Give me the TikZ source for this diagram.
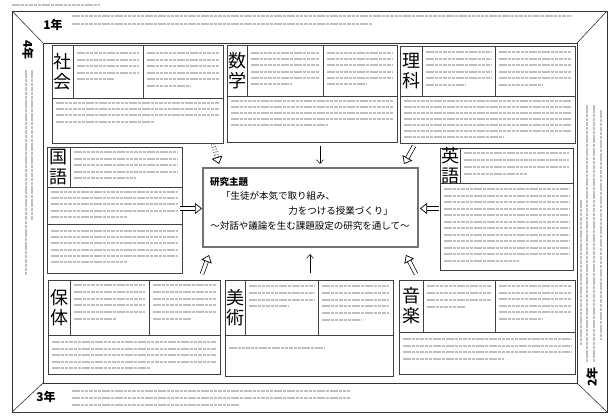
\documentclass[tikz,border=0pt]{standalone}
\usepackage{fontspec}
\setmainfont{Noto Sans CJK JP}
\usetikzlibrary{arrows.meta}

% rows of unreadable small print, drawn as grey bars
\newcommand\txtrows[5]{%
  \foreach \k in {1,...,#4}{
    \pgfmathsetmacro\yy{#3+(\k-1)*#5}
    \ifnum\k=#4 \draw[txt] (#1,\yy) -- ({#1+0.6*(#2-#1)},\yy);
    \else \draw[txt] (#1,\yy) -- (#2,\yy); \fi
  }}

\begin{document}
\begin{tikzpicture}[x=1pt,y=-1pt,
  frame/.style={draw=black!80, line width=0.6pt},
  box/.style={draw=black!75, line width=0.7pt},
  subj/.style={font=\fontsize{18}{20}\selectfont, align=center, inner sep=0pt},
  grade/.style={font=\bfseries\fontsize{12}{13}\selectfont, inner sep=0pt},
  theme/.style={font=\fontsize{9.5}{11}\selectfont, inner sep=0pt},
  txt/.style={black!25, line width=2pt, dash pattern=on 3.5pt off 0.8pt},
  hollow/.style={double=white, double distance=3pt, line width=0.7pt,
    -{Triangle[open,length=7pt,width=11pt]}},
  thin/.style={line width=0.5pt, -{Straight Barb[length=4pt,width=7pt]}}]
\useasboundingbox (0,0) rectangle (613,416);

% frame with the four grade bands
\draw[txt] (12,5) -- (100,5);
\draw[frame] (12,11) rectangle (607,412);
\draw[frame] (43,43) rectangle (577,383);
\draw[frame] (12,11) -- (43,43) (607,11) -- (577,43)
  (12,412) -- (43,383) (607,412) -- (577,383);

\node[grade] (nen1) at (53,25) {1年};
\node[grade, rotate=90] (nen2) at (592,377) {2年};
\node[grade] (nen3) at (46,397) {3年};
\node[grade, rotate=-90] (nen4) at (28,50) {4年};

\txtrows{72}{572}{16}{2}{8}
\txtrows{72}{350}{391}{3}{7}
\draw[txt] (26,70) -- (26,275);
\draw[txt] (32,70) -- (32,220);
\draw[txt] (581,200) -- (581,345);
\draw[txt] (587,105) -- (587,362);
\draw[txt] (594,105) -- (594,362);
\draw[txt] (601,110) -- (601,340);

% social studies
\draw[box] (52,45) rectangle (223,143);
\draw[box] (73,45) -- (73,98) (52,98) -- (223,98) (143,45) -- (143,98);
\node[subj] (shakai) at (62.5,71.5) {社\\会};
\txtrows{77}{139}{53}{5}{6.5}
\txtrows{147}{219}{53}{6}{6.5}
\txtrows{56}{219}{103}{4}{6.2}

% mathematics
\draw[box] (227,45) rectangle (397,142);
\draw[box] (247,45) -- (247,96) (227,96) -- (397,96) (323,45) -- (323,96);
\node[subj] (sugaku) at (237,70.5) {数\\学};
\txtrows{251}{319}{53}{6}{6.2}
\txtrows{327}{393}{53}{6}{6.2}
\txtrows{231}{393}{101}{5}{6}

% science
\draw[box] (400,46) rectangle (575,143);
\draw[box] (422,46) -- (422,96) (400,96) -- (575,96) (495,46) -- (495,96);
\node[subj] (rika) at (411,71) {理\\科};
\txtrows{426}{491}{52}{6}{6.5}
\txtrows{499}{571}{52}{6}{6.5}
\txtrows{404}{571}{101}{7}{6}

% japanese
\draw[box] (47,147) rectangle (182,273);
\draw[box] (70,147) -- (70,187) (47,187) -- (182,187) (47,224) -- (182,224);
\node[subj] (kokugo) at (58.5,167) {国\\語};
\txtrows{74}{178}{152}{5}{6.5}
\txtrows{51}{178}{192}{5}{6.2}
\txtrows{51}{178}{231}{6}{6.2}

% english
\draw[box] (440,148) rectangle (573,270);
\draw[box] (460,148) -- (460,183) (440,183) -- (573,183);
\node[subj] (eigo) at (450,165.5) {英\\語};
\txtrows{464}{569}{153}{4}{7}
\txtrows{444}{569}{189}{12}{6.5}

% health and pe
\draw[box] (48,280) rectangle (220,374);
\draw[box] (70,280) -- (70,335) (48,335) -- (220,335) (149,280) -- (149,335);
\node[subj] (hotai) at (59,307.5) {保\\体};
\txtrows{74}{145}{285}{6}{6.8}
\txtrows{153}{216}{285}{6}{6.8}
\txtrows{52}{216}{342}{5}{6.5}

% art
\draw[box] (225,280) rectangle (393,376);
\draw[box] (245,280) -- (245,335) (225,335) -- (393,335) (318,280) -- (318,335);
\node[subj] (bijutsu) at (235,307.5) {美\\術};
\txtrows{249}{314}{286}{4}{6.8}
\txtrows{322}{389}{286}{6}{6.8}
\txtrows{229}{389}{348}{1}{6}

% music
\draw[box] (399,280) rectangle (575,374);
\draw[box] (423,280) -- (423,332) (399,332) -- (575,332) (495,280) -- (495,332);
\node[subj] (ongaku) at (411,306) {音\\楽};
\txtrows{427}{491}{286}{4}{7}
\txtrows{499}{571}{286}{6}{6.5}
\txtrows{403}{571}{339}{4}{6.5}

% research theme
\node[draw=black!55, line width=1.4pt, minimum width=215, minimum height=79] (theme) at (310.5,207.5) {};
\node[theme, anchor=west, font=\bfseries\fontsize{9.5}{11}\selectfont] (title) at (210,182) {研究主題};
\node[theme, anchor=west] (line1) at (221,196) {「生徒が本気で取り組み、};
\node[theme, anchor=east] (line2) at (393,211) {力をつける授業づくり」};
\node[theme] (line3) at (310,226) {〜対話や議論を生む課題設定の研究を通して〜};

% arrows into the theme
\coordinate (tlA) at (213,144); \coordinate (tlB) at (219,164);
\coordinate (tmA) at (320,146); \coordinate (tmB) at (320,164);
\coordinate (trA) at (414,146); \coordinate (trB) at (404,164);
\coordinate (lA) at (180,208.5);  \coordinate (lB) at (202,208.5);
\coordinate (rA) at (439,208.5);  \coordinate (rB) at (420,208.5);
\coordinate (blA) at (202,274); \coordinate (blB) at (209,255);
\coordinate (bmA) at (310,273); \coordinate (bmB) at (310,254);
\coordinate (brA) at (416,274); \coordinate (brB) at (406,255);

\draw[hollow, dotted] (tlA) -- (tlB);
\draw[thin] (tmA) -- (tmB);
\draw[hollow] (trA) -- (trB);
\draw[hollow] (lA) -- (lB);
\draw[hollow] (rA) -- (rB);
\draw[hollow] (blA) -- (blB);
\draw[thin] (bmA) -- (bmB);
\draw[hollow] (brA) -- (brB);
\end{tikzpicture}
\end{document}
